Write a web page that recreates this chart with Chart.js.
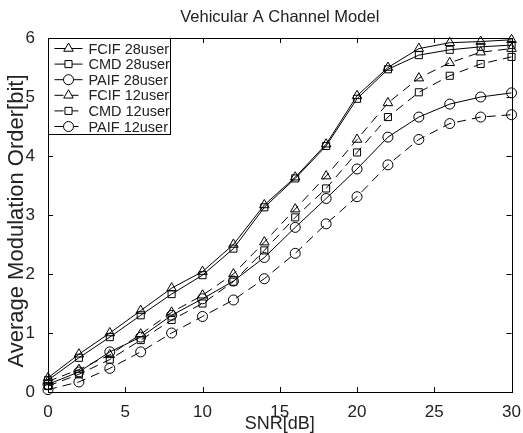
<!DOCTYPE html>
<html><head><meta charset="utf-8">
<script src="https://cdn.jsdelivr.net/npm/chart.js@4"></script>
<style>html,body{margin:0;padding:0;background:#fff}#wrap{width:523px;height:433px}</style>
</head><body><div id="wrap"><canvas id="c" width="523" height="433"></canvas></div>
<script>
const snr = [0,2,4,6,8,10,12,14,16,18,20,22,24,26,28,30];
const fcif28 = [0.24,0.64,1.00,1.38,1.76,2.04,2.50,3.17,3.64,4.20,5.02,5.50,5.82,5.92,5.94,5.97];
const cmd28  = [0.20,0.58,0.93,1.30,1.66,1.98,2.43,3.13,3.62,4.17,4.97,5.47,5.71,5.80,5.85,5.88];
const paif28 = [0.13,0.34,0.68,0.93,1.30,1.58,1.88,2.28,2.79,3.28,3.78,4.32,4.66,4.88,5.00,5.07];
const fcif12 = [0.18,0.38,0.63,0.98,1.35,1.64,2.00,2.54,3.10,3.66,4.28,4.90,5.32,5.58,5.76,5.82];
const cmd12  = [0.10,0.30,0.55,0.88,1.22,1.50,1.87,2.40,2.96,3.45,4.06,4.66,5.08,5.36,5.56,5.68];
const paif12 = [0.04,0.17,0.40,0.68,1.00,1.28,1.56,1.92,2.35,2.85,3.31,3.85,4.28,4.55,4.66,4.70];
const xTicks = [0,5,10,15,20,25,30];
const yTicks = [0,1,2,3,4,5,6];
const seriesNames = ['FCIF 28user','CMD 28user','PAIF 28user','FCIF 12user','CMD 12user','PAIF 12user'];
const titleText = 'Vehicular A Channel Model';
const xTitle = 'SNR[dB]';
const yTitle = 'Average Modulation Order[bit]';

const seriesVals = [fcif28, cmd28, paif28, fcif12, cmd12, paif12];
const styles = ['triangle','rect','circle','triangle','rect','circle'];
const dashes = [[],[],[],[9,6],[9,6],[9,6]];
const radii = [5.5,5,5,5.5,5,5];

const datasets = seriesVals.map((vals,i)=>({
  label: seriesNames[i],
  data: snr.map((x,j)=>({x:x,y:vals[j]})),
  borderColor:'#000', backgroundColor:'rgba(0,0,0,0)',
  borderWidth:1, borderDash:dashes[i],
  pointStyle:styles[i], pointRadius:radii[i], pointBorderWidth:1,
  pointBorderColor:'#000', pointBackgroundColor:'rgba(0,0,0,0)',
  tension:0, clip:false
}));

const FONT = 'Liberation Sans, Arial, sans-serif';
const TXT = '#222';

const decor = {
  id:'decor',
  afterDraw(chart){
    const ctx = chart.ctx, a = chart.chartArea;
    const xs = chart.scales.x, ys = chart.scales.y;
    ctx.save();
    ctx.fillStyle = TXT;
    ctx.textAlign='center'; ctx.textBaseline='middle';
    ctx.font = '16.5px '+FONT;
    ctx.fillText(titleText,(a.left+a.right)/2,17);
    ctx.font = '18px '+FONT;
    ctx.fillText(xTitle,(a.left+a.right)/2,424);
    ctx.save();
    ctx.translate(17,(a.top+a.bottom)/2+6);
    ctx.rotate(-Math.PI/2);
    ctx.font = '22px '+FONT;
    ctx.fillText(yTitle,0,0);
    ctx.restore();
    // box
    ctx.strokeStyle='#000'; ctx.lineWidth=1; ctx.setLineDash([]);
    ctx.strokeRect(Math.round(a.left)+0.5,Math.round(a.top)+0.5,Math.round(a.right-a.left),Math.round(a.bottom-a.top));
    const tl=5;
    ctx.beginPath();
    xTicks.forEach(v=>{
      const px=Math.round(xs.getPixelForValue(v))+0.5;
      ctx.moveTo(px,a.bottom); ctx.lineTo(px,a.bottom-tl);
      ctx.moveTo(px,a.top); ctx.lineTo(px,a.top+tl);
    });
    yTicks.forEach(v=>{
      const py=Math.round(ys.getPixelForValue(v))+0.5;
      ctx.moveTo(a.left,py); ctx.lineTo(a.left+tl,py);
      ctx.moveTo(a.right,py); ctx.lineTo(a.right-tl,py);
    });
    ctx.stroke();
    // legend
    const lx=Math.round(a.left)+0.5, ly=Math.round(a.top)+0.5, lw=122, rowH=15.6, lh=96;
    ctx.fillStyle='#fff'; ctx.fillRect(lx,ly,lw,lh);
    ctx.strokeRect(lx,ly,lw,lh);
    ctx.font='14.5px '+FONT; ctx.textAlign='left'; ctx.textBaseline='middle';
    datasets.forEach((d,i)=>{
      const y = ly + 10 + i*rowH;
      ctx.setLineDash(d.borderDash); ctx.strokeStyle='#000';
      ctx.beginPath(); ctx.moveTo(lx+6,y); ctx.lineTo(lx+34,y); ctx.stroke();
      ctx.setLineDash([]);
      ctx.fillStyle='#fff';
      Chart.helpers.drawPoint(ctx,{pointStyle:d.pointStyle,radius:d.pointRadius,borderWidth:1},lx+20,y);
      ctx.fillStyle=TXT;
      ctx.fillText(d.label,lx+40,y+1);
    });
    ctx.restore();
  }
};

new Chart(document.getElementById('c'),{
  type:'line',
  data:{datasets},
  options:{
    responsive:false, animation:false, devicePixelRatio:1,
    layout:{padding:{left:0,right:9,top:38,bottom:0}},
    plugins:{legend:{display:false},tooltip:{enabled:false},title:{display:false}},
    scales:{
      x:{type:'linear',min:0,max:30,
        afterBuildTicks(s){s.ticks=xTicks.map(v=>({value:v}));},
        afterFit(s){s.height=41;},
        grid:{display:false},border:{display:false},
        ticks:{padding:2,color:TXT,font:{family:FONT,size:17},maxRotation:0,autoSkip:false},
        title:{display:false}
      },
      y:{type:'linear',min:0,max:6,
        afterBuildTicks(s){s.ticks=yTicks.map(v=>({value:v}));},
        afterFit(s){s.width=48;},
        grid:{display:false},border:{display:false},
        ticks:{padding:5,color:TXT,font:{family:FONT,size:17},autoSkip:false},
        title:{display:false}
      }
    }
  },
  plugins:[decor]
});
</script></body></html>
